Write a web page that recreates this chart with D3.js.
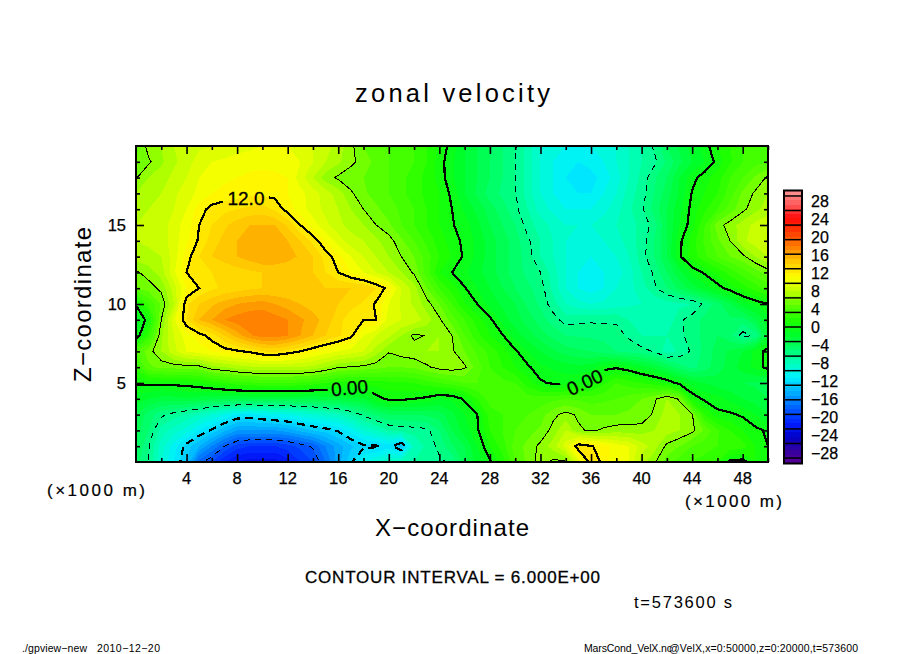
<!DOCTYPE html>
<html>
<head>
<meta charset="utf-8">
<script src="https://cdn.jsdelivr.net/npm/d3@7"></script>
<style>
  html, body { margin: 0; padding: 0; background: #fff; }
  text { font-family: "Liberation Sans", sans-serif; fill: #000; }
</style>
</head>
<body>
<svg id="chart" width="904" height="654"></svg>
<script>
// grid columns, km (x = 0..50)
var xStep = 1;

// zonal velocity by height (km)
var z0  = [-4.5,-6,-9,-11,-13,-17.5,-19,-21,-22,-22.5,-22.5,-22.5,-21.5,-20,-19,-17,-14.5,-12.2,-10,-9,-8,-7.5,-7,-6.5,-6.2,-5.8,-3.5,-1.5,-0.2,1.5,4,5.3,6.5,5.7,5.8,9.5,12.5,11.8,10,10,7.5,6.2,4.5,3.5,3,2.5,2,-0.3,-0.5,1,0];
var z1  = [-4,-5.9,-8.5,-10.5,-12.5,-14,-16,-18,-19.5,-20,-20,-20,-19.5,-18.7,-17.8,-16,-14.5,-13.2,-12.3,-12.2,-11.5,-13.5,-8,-6.7,-5.7,-4.2,-3,-1,1,2.5,4.5,5.3,6.3,7.5,9.5,12.8,12.1,11.5,10.5,10,8.5,7.5,5.7,5,4,3.5,3,2.7,2.5,1,0];
var z2  = [-3.5,-5,-7.5,-8.5,-9.5,-11,-12.2,-13.7,-15,-15,-15,-15,-14.5,-13.7,-13,-12.5,-11.8,-10.5,-9,-8,-7,-6.7,-6.5,-6.3,-5,-3,-1.5,-0.2,2,3,4,4.6,5.2,6.4,8,6.2,5.8,6.2,6.5,6.5,6.5,7,7.5,7,6.3,4.8,3.2,2,1,0.3,-0.2];
var z3  = [-3,-4.5,-5.7,-6.5,-7.2,-8,-9,-10,-11,-11.2,-10.7,-10.3,-10,-9.5,-9,-8.5,-8,-7,-5.7,-4.7,-4,-4,-4,-3.8,-3.5,-2.3,-1,0,2.5,3,3.5,4,4.5,5.7,6.4,5.8,5,5,5,5.2,5.3,6.2,7.5,7,6.1,2,0.3,0.2,-0.2,-1,-2];
var z4  = [-1.5,-2,-2.5,-2.4,-2.2,-2.5,-2.8,-2.8,-2.8,-2.8,-2.8,-2.8,-2.8,-2.8,-2.8,-2.6,-2.5,-2.2,-2,-0.5,0.3,0.3,0,-0.3,-1,-0.8,0.2,2,3.5,3.5,3.5,3.5,3.5,3.7,4,3.8,3.5,3.7,4,4.5,5,5.8,7,5.8,0.8,-0.3,-0.6,-1.3,-2,-2.5,-3];
var z5  = [0.2,0.3,0.3,0.4,0.5,0.9,1.5,2,2.5,2.8,3,3,3,2.8,2.5,2,1.5,1.3,1.3,1.5,1.7,1.8,2,2.5,3,3.5,4,4,3.7,3.3,3,1.5,0.2,-0.2,-0.3,0,0.5,1.8,3,2.5,2,1.5,0.8,-0.4,-1.5,-2,-2.5,-2.8,-3,-3.2,-3.5];
var z6  = [2.5,4.8,5.3,5.4,5.5,5.6,6.7,7,7.5,7.8,8,8,8,8,7.7,7,6.1,5.9,5.7,5.4,5,5,5.2,5.8,6.4,6.6,6.2,4.5,3,2,1,0.2,-0.7,-1.2,-1.5,-1.7,-1.5,-0.4,-0.2,-0.7,-1.5,-2.3,-3.3,-4.5,-5.3,-4.5,-3.5,-2.5,-1.5,-0.7,0.5];
var z7  = [4,5.5,7,8.7,10,10.5,11,11.5,11.8,12.2,13,13.2,12.6,12,11.2,10.5,10,9.5,9,7.5,6.1,6.5,6.7,7,7,6.2,5,3.8,2.7,1.5,0.2,-1,-2,-2.8,-3.5,-3.8,-4,-4.5,-5,-5.3,-5.6,-6.1,-7.5,-6.8,-5.8,-4.7,-3.5,-2.8,-2,-0.7,0.5];
var z8  = [-1,2.5,6.8,9,10.5,11.5,12.5,14,15.5,16.8,17.5,17.5,17,16,15,14,13.2,12.3,10,9,8.2,7,5.7,6.1,7,6,4,2.3,1,0.1,-1.5,-2.5,-3.5,-4.3,-5,-5.1,-5.2,-5.3,-5.5,-6.2,-7,-7,-7,-6.3,-5.5,-4.7,-4,-4.7,-6.5,-5.7,-2];
var z9  = [-2,0.8,6,9.8,13,15,16,17,17.5,17.9,17.9,17.5,17,16.2,15.5,14.5,13.5,12.2,12,12,9.5,9,8.7,7.5,6.2,4.5,3,1.5,0.3,-1.5,-2.5,-3.5,-4.5,-5.5,-6.5,-6.3,-6.2,-6.2,-6.2,-7,-7.5,-8,-8,-6.2,-5.5,-4.7,-4,-4.2,-4.5,-3,-1.5];
var z10 = [0.2,3,5.2,8,12.8,14,14.8,15.5,16,16.3,16.5,16,15.5,15,14.5,14.2,14,13.5,12.8,11.8,10,8.8,7.8,6.5,5,3,1.1,0,-1.5,-2.2,-3,-4.2,-5.2,-6.6,-8,-8.7,-9,-8.8,-8.5,-8.2,-8,-7.8,-7.5,-7.3,-7,-5.7,-4.5,-3,-1.5,-0.7,0];
var z11 = [5,5.5,6.3,8.5,11,12,12.8,13.2,13.5,13.8,14,14,14,14,14,14,14,14,14,13,11.5,9,7.5,5,3,1.5,0.1,-1,-2,-3,-4,-4.8,-5.5,-7.3,-9,-10,-10.5,-10,-9,-8.3,-7.5,-6.2,-5,-3.7,-2.5,-1.5,-0.5,0.5,1.5,2.5,3.5];
var z12 = [5.8,6.5,7.5,9.8,12,12.6,13,13.2,13.5,13.8,14,14,14,14,14,13,12,11,10,9,8,7,5.8,3.5,1,0,-0.8,-1.7,-2.5,-3.5,-4.5,-5.3,-6,-7.5,-9,-10,-10.5,-10,-9.5,-8.5,-7,-5.8,-4,-2.3,-0.7,0.2,1.3,2.4,3.5,4.5,5.5];
var z13 = [7.5,7.7,8,9.5,11.5,13,14,14.5,15,15.5,16,16,15.5,14.8,14,12.6,11.4,10,9,8,7,6,5,3.5,2,0.9,-0.2,-1.3,-2.5,-3.5,-4.5,-5.5,-7,-8,-9,-9.5,-10,-9.5,-9,-8,-6.5,-5,-3,-0.2,1.5,2.8,4,5,5.7,7,8];
var z14 = [8,8.2,8.5,9.5,10.8,12.2,13.5,14.3,15,15.5,15.8,15.8,15,14,12.7,11,9.5,8.5,8,7.2,6.5,5.2,4,2.7,1.5,0.5,-0.3,-1.3,-2.5,-3.5,-4.5,-5.8,-7,-8,-9,-9.5,-9.5,-9,-8.5,-7.5,-6.6,-5,-3,-0.3,1.5,3.2,4.8,6,7.8,8.5,8.8];
var z15 = [8,8.2,8.5,9.5,10.5,12,13,13.8,14.5,15,15,15,13.8,12,10.5,9.3,8.3,7.6,7,6,5.2,4,3,2,1,0.1,-0.5,-1.7,-3,-4,-5,-6.5,-7.5,-8.3,-9,-9,-9,-8.5,-8,-7.3,-6.8,-5.5,-3,-1,0.6,3,5.5,6.5,7.5,8.3,8.8];
var z16 = [7.5,8,8.5,9,10,11.5,12.4,12.7,13,13.3,13.5,12.8,11.5,10.5,9.5,8.7,8,7,6,5.2,4.5,3.8,3,2,1,0,-1.2,-2.3,-3.5,-4.6,-5.7,-7,-8.5,-9.3,-10,-10,-10,-9.3,-8.5,-7.2,-6.2,-4.6,-3,-1.3,0.4,1.8,3,4.5,5.7,6.7,7.5];
var z17 = [7,7.5,8,8.8,9.5,10.3,11,11.3,11.5,11.7,11.7,11.6,11,10.3,9.5,8.5,7.5,6.2,5.2,4.6,4,3.3,2.5,1.7,1,-0.3,-2,-3.2,-4.5,-5.2,-5.9,-7.5,-9,-10,-10.5,-11,-11,-10,-9,-7.5,-6.5,-5,-3.5,-1.8,0.1,1,2,3.5,5.2,6.2,7];
var z18 = [5.9,7,7.5,8.3,9,10,10.5,10.8,11,11.3,11.5,11.3,11,9.5,8,6.5,5.8,5.3,5,4.5,4,3.3,2.5,1.7,0.6,-0.8,-2,-3,-4,-5,-6,-7.5,-9,-10,-11,-11.5,-11.5,-10.5,-9.5,-8,-6.7,-5.2,-4,-2,-0.4,0.6,1.5,3,4,5.2,6.2];
var z19 = [5,5.8,6.8,7.8,8.5,9.5,10,10.2,10.5,10.5,10.5,10.5,10.5,10,9,8,7.2,6.3,5.5,4.7,4,3.5,3,2,0.5,-0.8,-2,-3,-4,-5,-6,-7.5,-9,-10,-10.5,-11,-10.5,-10,-9,-8,-7,-6.3,-4.8,-3.3,-2,-1,0.4,1.8,3,3.6,4];
var z20 = [4.5,6.5,7,8,8.5,8.8,9,9.2,9.5,9.8,10,10,10,9.7,9,8.5,7.5,6.3,5,4.5,4,3.5,3,2,0.8,-0.5,-2,-3,-4,-5,-5.8,-7.5,-9,-9.5,-10,-10,-10,-9.5,-9,-8,-7,-5.8,-4,-2.8,-1.5,-0.5,1,2,3,3.5,4];
var rows = [z0,z1,z2,z3,z4,z5,z6,z7,z8,z9,z10,z11,z12,z13,z14,z15,z16,z17,z18,z19,z20];

var xTicks = [4,8,12,16,20,24,28,32,36,40,44,48];
var xMinor = [2,6,10,14,18,22,26,30,34,38,42,46,50];
var zTicks = [5,10,15];
var zMinor = [1,2,3,4,6,7,8,9,11,12,13,14,16,17,18,19];
var levels = [-18,-12,-6,0,6,12];
var barLabels = [28,24,20,16,12,8,4,0,-4,-8,-12,-16,-20,-24,-28];

// colour stops of the tone table
var toneVals = [-30,-27,-24,-21,-17.5,-14.5,-11,-8,-4.8,-1.5,1.5,4.7,8,11,14.5,17.5,21,24,27,30];
var toneCols = ["#5a0096","#3200a0","#0000c8","#001eff","#0064ff","#00aaff","#00f0ff","#00ffbe","#00ff6e","#00ff28",
                "#1eff00","#5aff00","#beff00","#ffff00","#ffc800","#ff8200","#ff3c00","#ff0a0a","#ff5a5a","#ff9696"];

// in-line contour labels: text, x km, z km, angle
var lineLabels = [
  {t:"12.0", x:8.7, z:16.7, a:0, w:46},
  {t:"0.00", x:16.9, z:4.7, a:-5, w:44},
  {t:"0.00", x:35.5, z:5.05, a:-25, w:46}
];

var svg = d3.select("#chart");
var x = d3.scaleLinear().domain([0,50]).range([136,768]);
var y = d3.scaleLinear().domain([0,20]).range([462,146]);
var barY = d3.scaleLinear().domain([-30,30]).range([463.5,190.5]);
var barLabelY = d3.scaleLinear().domain([-28,28]).range([453,201]);
var tone = d3.scaleLinear().domain(toneVals).range(toneCols).clamp(true);

var field = d3.merge(rows);
var steps = d3.range(-30,31,1);

// grid index -> picture
var toPix = d3.geoTransform({point: function(i,j){
  this.stream.point(x((i-0.5)*xStep), y(j-0.5));
}});
var path = d3.geoPath(toPix);
var contours = d3.contours().size([z0.length, rows.length]);

var defs = svg.append("defs");
defs.append("clipPath").attr("id","plotclip").append("rect")
  .attr("x",x(0)).attr("y",y(20)).attr("width",x(50)-x(0)).attr("height",y(0)-y(20));

// gaps in the lines under the labels
var mask = defs.append("mask").attr("id","labelgap").attr("maskUnits","userSpaceOnUse")
  .attr("x",0).attr("y",0).attr("width",904).attr("height",654);
mask.append("rect").attr("width",904).attr("height",654).attr("fill","#fff");
mask.selectAll("rect.gap").data(lineLabels).enter().append("rect").attr("class","gap")
  .attr("x",function(d){return -d.w/2;}).attr("y",-11).attr("width",function(d){return d.w;}).attr("height",22)
  .attr("fill","#000")
  .attr("transform",function(d){return "translate("+x(d.x)+","+y(d.z)+") rotate("+d.a+")";});

// tone
svg.append("g").attr("clip-path","url(#plotclip)").attr("shape-rendering","crispEdges")
  .selectAll("path").data(contours.thresholds(steps)(field)).enter().append("path")
  .attr("d",path).attr("fill",function(d){return tone(d.value+0.5);});

// contour lines
svg.append("g").attr("clip-path","url(#plotclip)")
  .append("g").attr("mask","url(#labelgap)").attr("shape-rendering","crispEdges")
  .selectAll("path").data(contours.thresholds(levels)(field)).enter().append("path")
  .attr("d",path).attr("fill","none").attr("stroke","#000")
  .attr("stroke-width",function(d){return d.value%12==0 ? 2.2 : 1;})
  .attr("stroke-dasharray",function(d){
    if (d.value>=0) return null;
    return d.value%12==0 ? "8,5" : "6,5";
  });

svg.selectAll("text.linelabel").data(lineLabels).enter().append("text").attr("class","linelabel")
  .attr("text-anchor","middle").attr("dy","0.36em").attr("font-size",19)
  .attr("stroke","#000").attr("stroke-width",0.3)
  .attr("transform",function(d){return "translate("+x(d.x)+","+y(d.z)+") rotate("+d.a+")";})
  .text(function(d){return d.t;});

// frame and ticks
function tickAxis(axis, vals, len, tr){
  var g = svg.append("g").attr("transform",tr)
    .call(axis.tickValues(vals).tickSize(-len).tickFormat("").tickSizeOuter(0));
  g.select(".domain").remove();
  g.selectAll("line").attr("stroke","#000").attr("stroke-width",1.6);
  return g;
}
var bottom = "translate(0,"+y(0)+")", top_ = "translate(0,"+y(20)+")";
var left = "translate("+x(0)+",0)", right = "translate("+x(50)+",0)";
tickAxis(d3.axisBottom(x),xTicks,8,bottom); tickAxis(d3.axisBottom(x),xMinor,4,bottom);
tickAxis(d3.axisTop(x),xTicks,8,top_);      tickAxis(d3.axisTop(x),xMinor,4,top_);
tickAxis(d3.axisLeft(y),zTicks,8,left);     tickAxis(d3.axisLeft(y),zMinor,4,left);
tickAxis(d3.axisRight(y),zTicks,8,right);   tickAxis(d3.axisRight(y),zMinor,4,right);

svg.append("rect").attr("x",x(0)).attr("y",y(20)).attr("width",x(50)-x(0)).attr("height",y(0)-y(20))
  .attr("fill","none").attr("stroke","#000").attr("stroke-width",2);

svg.selectAll("text.xt").data(xTicks).enter().append("text").attr("class","xt")
  .attr("x",function(d){return x(d);}).attr("y",484).attr("text-anchor","middle")
  .attr("font-size",16.5).attr("stroke","#000").attr("stroke-width",0.25).text(function(d){return d;});
svg.selectAll("text.zt").data(zTicks).enter().append("text").attr("class","zt")
  .attr("x",126).attr("y",function(d){return y(d);}).attr("dy","0.36em").attr("text-anchor","end")
  .attr("font-size",16.5).attr("stroke","#000").attr("stroke-width",0.25).text(function(d){return d;});

// colour bar
var bar = svg.append("g");
bar.append("g").attr("shape-rendering","crispEdges").selectAll("rect").data(steps.slice(0,-1)).enter().append("rect")
  .attr("x",784).attr("width",18).attr("y",function(d){return barY(d+1);})
  .attr("height",function(d){return barY(d)-barY(d+1)+0.5;})
  .attr("fill",function(d){return tone(d+0.5);});
bar.selectAll("line").data(d3.range(-9,10)).enter().append("line")
  .attr("x1",784).attr("x2",802)
  .attr("y1",function(d){return barY(d*3.2);}).attr("y2",function(d){return barY(d*3.2);})
  .attr("stroke","#000").attr("stroke-width",1.5);
bar.append("rect").attr("x",784).attr("y",barY(30)).attr("width",18).attr("height",barY(-30)-barY(30))
  .attr("fill","none").attr("stroke","#000").attr("stroke-width",2);
bar.selectAll("text").data(barLabels).enter().append("text")
  .attr("x",811).attr("y",function(d){return barLabelY(d);}).attr("dy","0.36em")
  .attr("font-size",16).attr("stroke","#000").attr("stroke-width",0.25)
  .text(function(d){return d<0 ? "\u2212"+(-d) : d;});

// titles, fitted to the width they have in the picture
function label(s, x0, x1, base, size, sw){
  return svg.append("text").attr("x",x0).attr("y",base).attr("font-size",size)
    .attr("stroke","#000").attr("stroke-width",sw||0)
    .attr("textLength",x1-x0).attr("lengthAdjust","spacing").text(s);
}
label("zonal velocity",355,550,102,25.5);
label("X\u2212coordinate",375,529,536,24);
label("(\u00d71000 m)",47,145,496,17,0.2);
label("(\u00d71000 m)",685,782,507,17,0.2);
label("CONTOUR INTERVAL = 6.000E+00",305,600,583,17,0.3);
label("t=573600 s",634,732,608,16.5);
label("./gpview\u2212new",22,87,652,10.5);
label("2010\u221212\u221220",97,160,652,10.5);
label("MarsCond_VelX.nc",584,672,652,10.5);
label("@VelX,x=0:50000,z=0:20000,t=573600",669,858,652,10.5);
svg.append("text").attr("transform","translate(91,382) rotate(-90)").attr("font-size",24)
  .attr("textLength",155).attr("lengthAdjust","spacing").text("Z\u2212coordinate");
</script>
</body>
</html>
